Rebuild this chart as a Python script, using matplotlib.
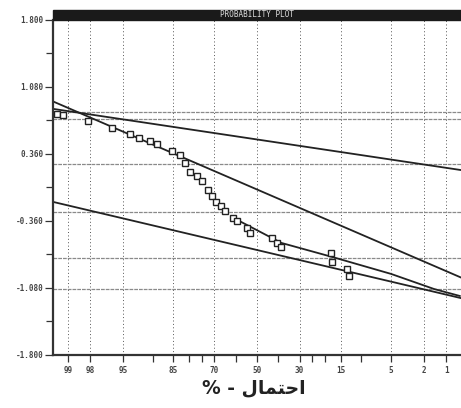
import matplotlib
matplotlib.use("Agg")
import matplotlib.pyplot as plt
from matplotlib.patches import Rectangle
from statistics import NormalDist
import numpy as np

# exceedance probability (%) -> normal quantile on the x axis
def q(p):
    if np.ndim(p) == 0:
        return NormalDist().inv_cdf(1 - p / 100.0)
    return np.array([NormalDist().inv_cdf(1 - v / 100.0) for v in p])

# observed points (plotting position %, value)
obs_prob = [99.3, 99.15, 98.1, 96.3, 94.1, 92.7, 90.6, 89.1, 85.3, 82.9, 81.3, 79.6, 77.1, 75.2,
            72.8, 71.2, 69.5, 67.3, 65.1, 61.8, 59.9, 54.7, 53.2, 42.5, 40.5, 38.2,
            18.0, 17.7, 13.3, 12.8]
obs_val = [0.790, 0.779, 0.715, 0.639, 0.575, 0.532, 0.500, 0.468, 0.392, 0.349, 0.263, 0.167, 0.124, 0.070,
           -0.027, -0.091, -0.156, -0.199, -0.252, -0.328, -0.360, -0.435, -0.489, -0.543, -0.596, -0.639,
           -0.704, -0.801, -0.876, -0.951]

# straight fitted lines: value at 50% and change per unit of normal quantile
fit_mid = [0.516, -0.0215, -0.672]
fit_slope = [-0.131, -0.377, -0.206]

# curved fit through the lower tail
tail_prob = [59.9, 38.2, 17.7, 4.95, 1.47, 0.63]
tail_val = [-0.345, -0.596, -0.747, -0.929, -1.091, -1.166]

# horizontal reference levels
ref_levels = [0.815, 0.733, 0.253, -0.260, -0.761, -1.091]

major_prob = [99, 98, 95, 85, 70, 50, 30, 15, 5, 2, 1]
minor_prob = [90, 80, 75, 60, 40, 25, 20, 10]
y_ticks = [1.8, 1.08, 0.36, -0.36, -1.08, -1.8]
y_minor = [1.44, 0.72, 0.0, -0.72, -1.44]

fig = plt.figure(figsize=(4.61, 4.08), dpi=100)
ax = fig.add_axes([0.115, 0.130, 0.885, 0.821])

xlim = (-2.51, 2.51)
ax.set_xlim(*xlim)
ax.set_ylim(-1.8, 1.8)

# grid
for p in major_prob:
    ax.axvline(q(p), color="#555555", lw=0.7, ls=(0, (1, 2.5)), zorder=1)
for v in ref_levels:
    ax.axhline(v, color="#8a8a8a", lw=0.9, ls=(0, (3, 0.8)), zorder=1)

zz = np.array(xlim)
for m, s in zip(fit_mid, fit_slope):
    ax.plot(zz, m + s * zz, color="#222222", lw=1.3, zorder=2)

ax.plot(q(tail_prob), tail_val, color="#222222", lw=1.3, zorder=2)

ax.plot(q(obs_prob), obs_val, ls="none", marker="s", ms=4.8, mfc="white",
        mec="#222222", mew=1.0, zorder=3)

ax.set_xticks(q(major_prob))
ax.set_xticklabels([str(p) for p in major_prob])
ax.set_xticks(q(minor_prob), minor=True)
ax.set_yticks(y_ticks)
ax.set_yticklabels(["%.3f" % v for v in y_ticks])
ax.set_yticks(y_minor, minor=True)

ax.tick_params(axis="both", which="both", direction="out", color="#333333",
               labelsize=5.5, labelcolor="#444444", width=0.9)
ax.tick_params(axis="y", which="major", length=6, pad=1)
ax.tick_params(axis="y", which="minor", length=5)
ax.tick_params(axis="x", which="both", length=5, pad=3)
for lab in ax.get_xticklabels() + ax.get_yticklabels():
    lab.set_family("DejaVu Sans Mono")
    lab.set_fontweight("bold")

for side in ["top", "right"]:
    ax.spines[side].set_visible(False)
for side in ["left", "bottom"]:
    ax.spines[side].set_linewidth(1.6)
    ax.spines[side].set_color("#333333")

# title bar
ax.add_patch(Rectangle((0, 1.0), 1.0, 0.03, transform=ax.transAxes,
                       color="#1a1a1a", clip_on=False, zorder=5))
ax.text(0.5, 1.015, "PROBABILITY PLOT", transform=ax.transAxes, ha="center",
        va="center", color="#dddddd", fontsize=5.5, family="DejaVu Sans Mono",
        zorder=6)

# "% - احتمال" written with presentation forms so it reads joined
label = "% - " + "\uFEDD\uFE8E\uFEE4\uFE98\uFEA3\uFE8D"
fig.text(0.55, 0.05, label, ha="center", va="center", fontsize=13.5,
         fontweight="bold", color="#222222", family=["DejaVu Sans"])

fig.savefig("out.png", dpi=100)
